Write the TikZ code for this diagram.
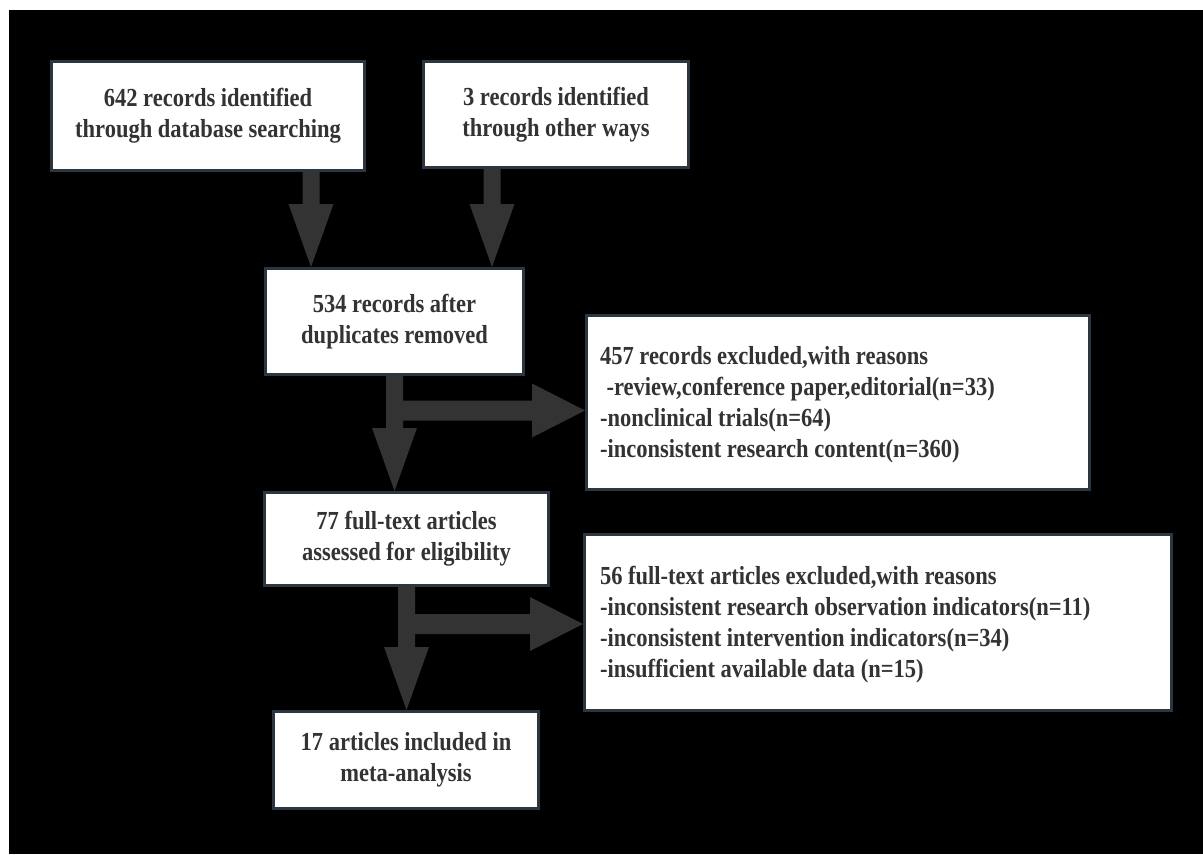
\documentclass[tikz,border=0pt]{standalone}
\usepackage{fontspec}
\setmainfont{Liberation Serif}[FakeStretch=0.866]
\usetikzlibrary{calc}
\definecolor{arrowc}{HTML}{333333}
\definecolor{boxline}{HTML}{2B3640}
\definecolor{txt}{HTML}{333333}
\newlength{\pxu}\setlength{\pxu}{0.75pt}
\newcommand{\linestrut}{\rule[-0.216em]{0pt}{1.107em}}
% vertical block arrow from #1 (shaft top) to #2 (tip)
\newcommand{\vblock}[2]{\fill[arrowc] let \p1=(#1), \p2=(#2) in
  (\x1-6.375pt,\y1) -- (\x1-6.375pt,\y2+47.25pt) -- (\x1-16.875pt,\y2+47.25pt) -- (\x2,\y2)
  -- (\x1+16.875pt,\y2+47.25pt) -- (\x1+6.375pt,\y2+47.25pt) -- (\x1+6.375pt,\y1) -- cycle;}
% horizontal block arrow from #1 (shaft start) to #2 (tip)
\newcommand{\hblock}[2]{\fill[arrowc] let \p1=(#1), \p2=(#2) in
  (\x1,\y1+7.5pt) -- (\x2-39.75pt,\y1+7.5pt) -- (\x2-39.75pt,\y1+20.25pt) -- (\x2,\y2)
  -- (\x2-39.75pt,\y1-20.25pt) -- (\x2-39.75pt,\y1-7.5pt) -- (\x1,\y1-7.5pt) -- cycle;}
\begin{document}
\begin{tikzpicture}[x=0.75pt,y=-0.75pt,
  box/.style={draw=boxline, line width=2.25pt, fill=white, text=txt,
    font=\fontsize{19.5pt}{23.25pt}\selectfont\bfseries, align=center, inner sep=0pt,
    execute at begin node=\linestrut, execute at end node=\linestrut},
  sidebox/.style={box, align=flush left, inner ysep=0pt}]
\useasboundingbox (0,0) rectangle (1203,854);
\fill[white] (0,0) rectangle (1203,854);
\fill[black] (9,10) rectangle (1203,854);

\node[box, minimum width=313\pxu, minimum height=109\pxu] (b1) at (208,116)
  {642 records identified\\through database searching};
\node[box, minimum width=265\pxu, minimum height=106\pxu] (b2) at (556,114.5)
  {3 records identified\\through other ways};
\node[box, minimum width=258\pxu, minimum height=106\pxu] (b3) at (394.5,321.5)
  {534 records after\\duplicates removed};
\node[sidebox, inner xsep=13.5\pxu, text width=476\pxu, minimum height=174\pxu] (b457) at (838,402.5)
  {457 records excluded,with reasons\\
   \hspace*{0.25em}-review,conference paper,editorial(n=33)\\
   -nonclinical trials(n=64)\\
   -inconsistent research content(n=360)};
\node[box, minimum width=284\pxu, minimum height=93\pxu] (b77) at (406.5,539)
  {77 full-text articles\\assessed for eligibility};
\node[sidebox, inner xsep=15.5\pxu, text width=556\pxu, minimum height=176\pxu] (b56) at (878,622.5)
  {56 full-text articles excluded,with reasons\\
   -inconsistent research observation indicators(n=11)\\
   -inconsistent intervention indicators(n=34)\\
   -insufficient available data (n=15)};
\node[box, minimum width=265\pxu, minimum height=97\pxu] (b17) at (406,760)
  {17 articles included in\\meta-analysis};

\coordinate (a1) at ($(b1.south)+(103,0)$);
\coordinate (a2) at ($(b2.south)+(-64,0)$);
\coordinate (c3) at ($(b3.south)+(0,34.5)$);
\coordinate (c4) at ($(b77.south)+(0,37)$);

\vblock{a1}{a1 |- b3.north}
\vblock{a2}{a2 |- b3.north}
\hblock{c3}{c3 -| b457.west}
\vblock{b3.south}{b3.south |- b77.north}
\hblock{c4}{c4 -| b56.west}
\vblock{b77.south}{b77.south |- b17.north}
\end{tikzpicture}
\end{document}
